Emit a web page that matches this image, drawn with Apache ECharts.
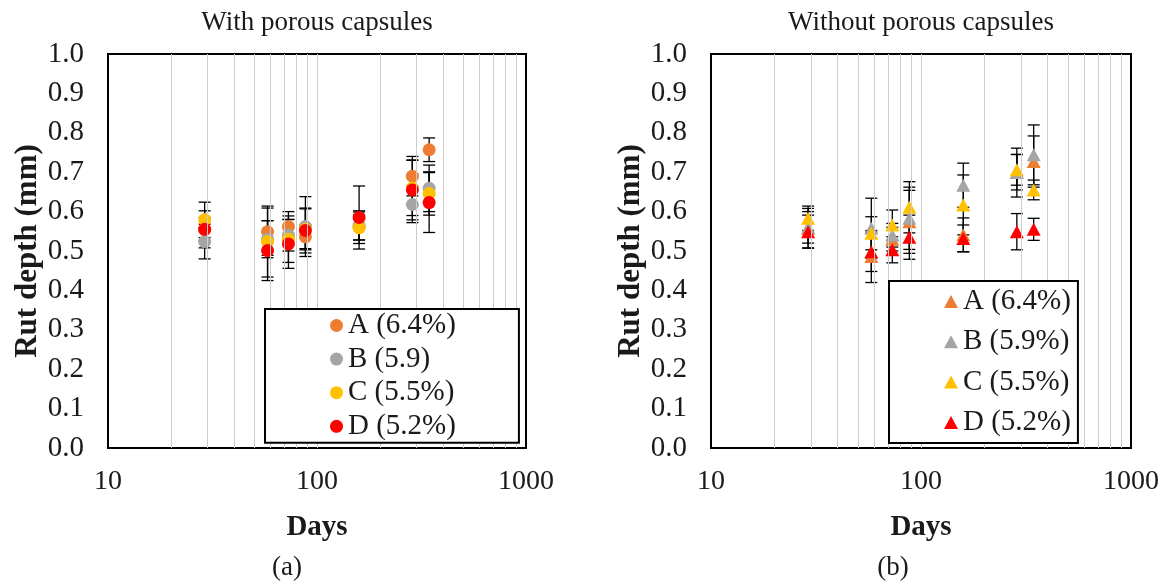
<!DOCTYPE html>
<html>
<head>
<meta charset="utf-8">
<script src="https://cdn.jsdelivr.net/npm/echarts@6/dist/echarts.min.js"></script>
<style>
html,body{margin:0;padding:0;background:#fff;}
#c{width:1166px;height:583px;}
</style>
</head>
<body>
<div id="c"></div>
<script>
// ---- data ----
const DAYS = [29, 58, 73, 88, 159, 286, 344];
const Y_TICKS = [0, 0.1, 0.2, 0.3, 0.4, 0.5, 0.6, 0.7, 0.8, 0.9, 1.0];
const X_GRID = [20, 30, 40, 50, 60, 70, 80, 90, 100, 200, 300, 400, 500, 600, 700, 800, 900];

const NAMES_WITH = ['A (6.4%)', 'B (5.9)', 'C (5.5%)', 'D (5.2%)'];
const NAMES_WITHOUT = ['A (6.4%)', 'B (5.9%)', 'C (5.5%)', 'D (5.2%)'];

const WITH_A = [0.555, 0.549, 0.562, 0.536, 0.560, 0.690, 0.757];
const WITH_B = [0.524, 0.530, 0.540, 0.562, 0.565, 0.618, 0.659];
const WITH_C = [0.579, 0.524, 0.530, 0.555, 0.559, 0.660, 0.646];
const WITH_D = [0.555, 0.501, 0.518, 0.552, 0.585, 0.655, 0.623];
const WITH_A_ERR = [0.030, 0.060, 0.038, 0.030, 0.032, 0.050, 0.030];
const WITH_B_ERR = [0.044, 0.047, 0.040, 0.076, 0.037, 0.046, 0.059];
const WITH_C_ERR = [0.045, 0.090, 0.059, 0.052, 0.040, 0.070, 0.055];
const WITH_D_ERR = [0.047, 0.076, 0.062, 0.057, 0.080, 0.076, 0.076];

const WO_A = [0.558, 0.486, 0.530, 0.574, 0.541, 0.700, 0.727];
const WO_B = [0.560, 0.558, 0.540, 0.583, 0.667, 0.699, 0.744];
const WO_C = [0.583, 0.545, 0.566, 0.611, 0.617, 0.706, 0.655];
const WO_D = [0.549, 0.498, 0.503, 0.535, 0.532, 0.549, 0.555];
const WO_A_ERR = [0.050, 0.066, 0.030, 0.080, 0.043, 0.045, 0.065];
const WO_B_ERR = [0.040, 0.076, 0.030, 0.079, 0.056, 0.062, 0.076];
const WO_C_ERR = [0.031, 0.042, 0.038, 0.065, 0.076, 0.039, 0.025];
const WO_D_ERR = [0.042, 0.050, 0.033, 0.056, 0.034, 0.046, 0.028];

const COLORS = ['#ED7D31', '#A5A5A5', '#FFC000', '#FF0000'];
// ---- end data ----

const FONT = 'Liberation Serif';
const TXT = '#1a1a1a';

function pts(vals) { return DAYS.map((d, i) => [d, vals[i]]); }
function errs(vals, e) { return DAYS.map((d, i) => [d, vals[i] - e[i], vals[i] + e[i]]); }

function errRender(params, api) {
  const x = api.value(0), lo = api.value(1), hi = api.value(2);
  const pt = api.coord([x, hi]);
  const pb = api.coord([x, lo]);
  const h = 6;
  const st = { stroke: '#000', lineWidth: 1.3 };
  return {
    type: 'group',
    children: [
      { type: 'line', shape: { x1: pt[0], y1: pt[1], x2: pb[0], y2: pb[1] }, style: st },
      { type: 'line', shape: { x1: pt[0] - h, y1: pt[1], x2: pt[0] + h, y2: pt[1] }, style: st },
      { type: 'line', shape: { x1: pb[0] - h, y1: pb[1], x2: pb[0] + h, y2: pb[1] }, style: st }
    ]
  };
}

const grids = [
  { left: 108, top: 54, width: 418, height: 394, show: true, borderColor: '#000', borderWidth: 2, backgroundColor: 'transparent' },
  { left: 711, top: 54, width: 420, height: 394, show: true, borderColor: '#000', borderWidth: 2, backgroundColor: 'transparent' }
];

function xAx(gi) {
  return {
    type: 'log', logBase: 10, min: 10, max: 1000, gridIndex: gi,
    name: 'Days', nameLocation: 'middle', nameGap: 65,
    nameTextStyle: { fontFamily: FONT, fontSize: 29, fontWeight: 'bold', color: TXT },
    axisLine: { show: false }, axisTick: { show: false },
    splitLine: { show: false },
    axisLabel: { fontFamily: FONT, fontSize: 28, color: TXT, margin: 20, formatter: v => String(Math.round(v)) }
  };
}
function yAx(gi) {
  return {
    type: 'value', min: Y_TICKS[0], max: Y_TICKS[Y_TICKS.length - 1], interval: 0.1, gridIndex: gi,
    name: 'Rut depth (mm)', nameLocation: 'middle', nameGap: 62,
    nameTextStyle: { fontFamily: FONT, fontSize: 31, fontWeight: 'bold', color: TXT },
    axisLine: { show: false }, axisTick: { show: false }, splitLine: { show: false },
    axisLabel: { fontFamily: FONT, fontSize: 29, color: TXT, margin: 24, formatter: v => v.toFixed(1) }
  };
}

const series = [];
function panel(gi, names, vals, errsArr, symbol) {
  series.push({
    type: 'scatter', xAxisIndex: gi, yAxisIndex: gi, data: [], silent: true, z: 1,
    markLine: {
      silent: true, symbol: ['none', 'none'], label: { show: false },
      lineStyle: { color: '#cccccc', width: 1, type: 'solid' },
      emphasis: { disabled: true },
      data: X_GRID.map(v => ({ xAxis: v }))
    }
  });
  for (let k = 0; k < 4; k++) {
    series.push({
      type: 'custom', name: names[k] + ' err', xAxisIndex: gi, yAxisIndex: gi, z: 2,
      renderItem: errRender, encode: { x: 0, y: [1, 2] }, data: errs(vals[k], errsArr[k]), silent: true
    });
  }
  for (let k = 0; k < 4; k++) {
    series.push({
      type: 'scatter', name: names[k], xAxisIndex: gi, yAxisIndex: gi, z: 3,
      symbol: symbol, symbolSize: symbol === 'circle' ? 13 : [14, 13],
      itemStyle: { color: COLORS[k], opacity: 1 },
      data: pts(vals[k])
    });
  }
}
panel(0, NAMES_WITH, [WITH_A, WITH_B, WITH_C, WITH_D], [WITH_A_ERR, WITH_B_ERR, WITH_C_ERR, WITH_D_ERR], 'circle');
panel(1, NAMES_WITHOUT, [WO_A, WO_B, WO_C, WO_D], [WO_A_ERR, WO_B_ERR, WO_C_ERR, WO_D_ERR], 'triangle');

const titleStyle = { fontFamily: FONT, fontSize: 27, fontWeight: 'normal', color: TXT };
const option = {
  animation: false,
  backgroundColor: '#fff',
  title: [
    { text: 'With porous capsules', left: 317, top: 9, textAlign: 'center', padding: 0, textStyle: titleStyle },
    { text: 'Without porous capsules', left: 921, top: 9, textAlign: 'center', padding: 0, textStyle: titleStyle },
    { text: '(a)', left: 287, top: 554, textAlign: 'center', padding: 0, textStyle: titleStyle },
    { text: '(b)', left: 893, top: 554, textAlign: 'center', padding: 0, textStyle: titleStyle }
  ],
  grid: grids,
  xAxis: [xAx(0), xAx(1)],
  yAxis: [yAx(0), yAx(1)],
  legend: [
    {
      orient: 'vertical', left: 265, top: 309, z: 50,
      padding: [2, 63, 2, 65], itemGap: 4.6, itemWidth: 13, itemHeight: 13,
      borderColor: '#000', borderWidth: 2, backgroundColor: '#fff',
      selectedMode: false,
      textStyle: { fontFamily: FONT, fontSize: 29, color: TXT, lineHeight: 29 },
      data: NAMES_WITH.map(n => ({ name: n, icon: 'circle' }))
    },
    {
      orient: 'vertical', left: 889, top: 281, z: 50,
      padding: [6, 7, 6, 55], itemGap: 11.3, itemWidth: 14, itemHeight: 13,
      borderColor: '#000', borderWidth: 2, backgroundColor: '#fff',
      selectedMode: false,
      textStyle: { fontFamily: FONT, fontSize: 29, color: TXT, lineHeight: 29 },
      data: NAMES_WITHOUT.map(n => ({ name: n, icon: 'triangle' }))
    }
  ],
  series: series
};

const chart = echarts.init(document.getElementById('c'), null, { renderer: 'canvas' });
chart.setOption(option);
</script>
</body>
</html>
